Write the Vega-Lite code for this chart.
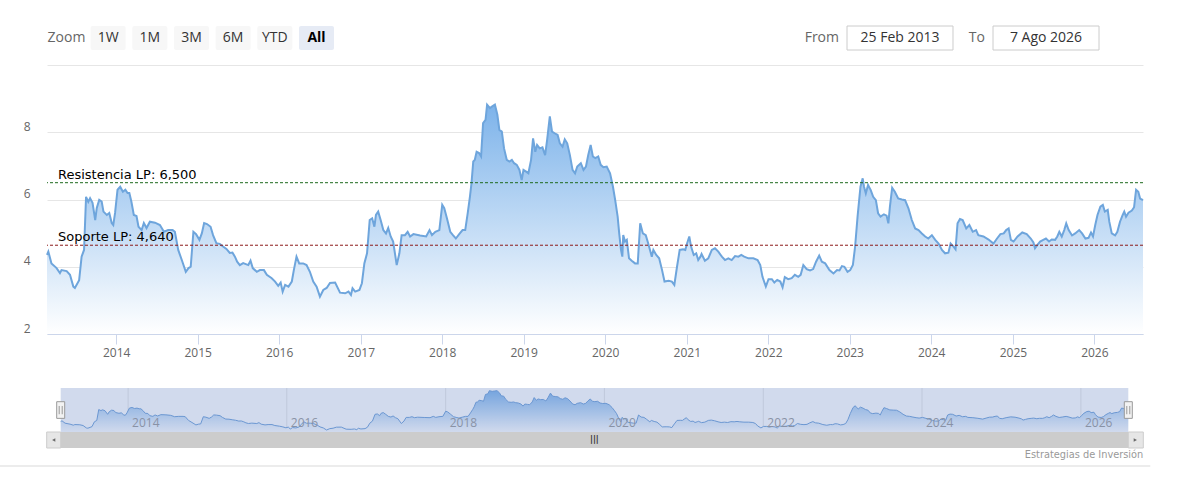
{
  "$schema": "https://vega.github.io/schema/vega-lite/v6.json",
  "autosize": "none",
  "width": 1096,
  "height": 269,
  "padding": {"left": 47, "top": 65, "right": 54, "bottom": 146},
  "background": "#ffffff",
  "config": {"view": {"stroke": null}, "font": "Open Sans"},
  "datasets": {
    "precio": [
      {"fecha": "2013-02-25", "valor": 4.35}, {"fecha": "2013-03-03", "valor": 4.45}, {"fecha": "2013-03-17", "valor": 4.1},
      {"fecha": "2013-04-09", "valor": 3.96}, {"fecha": "2013-04-24", "valor": 3.81}, {"fecha": "2013-05-01", "valor": 3.9},
      {"fecha": "2013-05-24", "valor": 3.87}, {"fecha": "2013-06-08", "valor": 3.76}, {"fecha": "2013-06-23", "valor": 3.41},
      {"fecha": "2013-06-30", "valor": 3.37}, {"fecha": "2013-07-19", "valor": 3.6}, {"fecha": "2013-07-30", "valor": 4.3},
      {"fecha": "2013-08-10", "valor": 4.5}, {"fecha": "2013-08-19", "valor": 6.08}, {"fecha": "2013-08-29", "valor": 5.93},
      {"fecha": "2013-09-06", "valor": 6.04}, {"fecha": "2013-09-17", "valor": 5.9}, {"fecha": "2013-09-29", "valor": 5.39},
      {"fecha": "2013-10-06", "valor": 5.75}, {"fecha": "2013-10-17", "valor": 5.99}, {"fecha": "2013-10-28", "valor": 5.94},
      {"fecha": "2013-11-05", "valor": 5.64}, {"fecha": "2013-11-20", "valor": 5.54}, {"fecha": "2013-12-01", "valor": 5.6},
      {"fecha": "2013-12-12", "valor": 5.3}, {"fecha": "2013-12-19", "valor": 5.24}, {"fecha": "2013-12-27", "valor": 5.6},
      {"fecha": "2014-01-07", "valor": 6.29}, {"fecha": "2014-01-19", "valor": 6.38}, {"fecha": "2014-01-31", "valor": 6.23},
      {"fecha": "2014-02-11", "valor": 6.29}, {"fecha": "2014-02-21", "valor": 6.19}, {"fecha": "2014-03-01", "valor": 6.19},
      {"fecha": "2014-03-10", "valor": 5.94}, {"fecha": "2014-03-21", "valor": 5.54}, {"fecha": "2014-04-02", "valor": 5.51},
      {"fecha": "2014-04-11", "valor": 5.19}, {"fecha": "2014-04-25", "valor": 5.09}, {"fecha": "2014-05-05", "valor": 5.3},
      {"fecha": "2014-05-17", "valor": 5.15}, {"fecha": "2014-06-01", "valor": 5.34}, {"fecha": "2014-06-24", "valor": 5.31},
      {"fecha": "2014-07-16", "valor": 5.24}, {"fecha": "2014-08-03", "valor": 5.04}, {"fecha": "2014-08-22", "valor": 5.09},
      {"fecha": "2014-09-11", "valor": 5.09}, {"fecha": "2014-09-21", "valor": 5.04}, {"fecha": "2014-10-06", "valor": 4.5},
      {"fecha": "2014-10-22", "valor": 4.2}, {"fecha": "2014-11-09", "valor": 3.85}, {"fecha": "2014-11-21", "valor": 3.96},
      {"fecha": "2014-12-01", "valor": 4.0}, {"fecha": "2014-12-13", "valor": 5.04}, {"fecha": "2014-12-25", "valor": 4.97},
      {"fecha": "2015-01-09", "valor": 4.8}, {"fecha": "2015-01-20", "valor": 5.0}, {"fecha": "2015-01-30", "valor": 5.3},
      {"fecha": "2015-02-12", "valor": 5.27}, {"fecha": "2015-02-28", "valor": 5.19}, {"fecha": "2015-03-11", "valor": 4.94},
      {"fecha": "2015-03-26", "valor": 4.7}, {"fecha": "2015-04-10", "valor": 4.68}, {"fecha": "2015-04-25", "valor": 4.6},
      {"fecha": "2015-05-10", "valor": 4.53}, {"fecha": "2015-05-25", "valor": 4.41}, {"fecha": "2015-06-06", "valor": 4.42},
      {"fecha": "2015-06-17", "valor": 4.3}, {"fecha": "2015-06-27", "valor": 4.15}, {"fecha": "2015-07-09", "valor": 4.05},
      {"fecha": "2015-07-24", "valor": 4.11}, {"fecha": "2015-08-16", "valor": 4.05}, {"fecha": "2015-08-26", "valor": 4.18},
      {"fecha": "2015-09-05", "valor": 3.96}, {"fecha": "2015-09-23", "valor": 3.85}, {"fecha": "2015-10-07", "valor": 3.9},
      {"fecha": "2015-10-25", "valor": 3.9}, {"fecha": "2015-11-07", "valor": 3.76}, {"fecha": "2015-11-29", "valor": 3.66},
      {"fecha": "2015-12-14", "valor": 3.56}, {"fecha": "2015-12-28", "valor": 3.43}, {"fecha": "2016-01-08", "valor": 3.53},
      {"fecha": "2016-01-17", "valor": 3.26}, {"fecha": "2016-01-28", "valor": 3.46}, {"fecha": "2016-02-12", "valor": 3.41},
      {"fecha": "2016-02-27", "valor": 3.56}, {"fecha": "2016-03-07", "valor": 3.9}, {"fecha": "2016-03-19", "valor": 4.3},
      {"fecha": "2016-03-31", "valor": 4.1}, {"fecha": "2016-04-18", "valor": 4.1}, {"fecha": "2016-05-03", "valor": 4.05},
      {"fecha": "2016-05-18", "valor": 3.85}, {"fecha": "2016-06-02", "valor": 3.56}, {"fecha": "2016-06-17", "valor": 3.41},
      {"fecha": "2016-07-02", "valor": 3.11}, {"fecha": "2016-07-17", "valor": 3.31}, {"fecha": "2016-08-01", "valor": 3.37},
      {"fecha": "2016-08-16", "valor": 3.52}, {"fecha": "2016-09-08", "valor": 3.53}, {"fecha": "2016-09-30", "valor": 3.23},
      {"fecha": "2016-10-23", "valor": 3.21}, {"fecha": "2016-11-07", "valor": 3.26}, {"fecha": "2016-11-18", "valor": 3.16},
      {"fecha": "2016-11-25", "valor": 3.36}, {"fecha": "2016-12-07", "valor": 3.26}, {"fecha": "2016-12-26", "valor": 3.31},
      {"fecha": "2017-01-06", "valor": 3.51}, {"fecha": "2017-01-17", "valor": 4.1}, {"fecha": "2017-01-29", "valor": 4.4},
      {"fecha": "2017-02-10", "valor": 5.39}, {"fecha": "2017-02-21", "valor": 5.44}, {"fecha": "2017-03-03", "valor": 5.19},
      {"fecha": "2017-03-10", "valor": 5.54}, {"fecha": "2017-03-20", "valor": 5.64}, {"fecha": "2017-03-31", "valor": 5.39},
      {"fecha": "2017-04-12", "valor": 5.09}, {"fecha": "2017-04-24", "valor": 4.99}, {"fecha": "2017-05-04", "valor": 5.15},
      {"fecha": "2017-05-15", "valor": 4.9}, {"fecha": "2017-05-26", "valor": 4.75}, {"fecha": "2017-06-11", "valor": 4.05},
      {"fecha": "2017-06-23", "valor": 4.4}, {"fecha": "2017-07-03", "valor": 4.94}, {"fecha": "2017-07-18", "valor": 4.94},
      {"fecha": "2017-07-30", "valor": 5.04}, {"fecha": "2017-08-10", "valor": 4.9}, {"fecha": "2017-08-25", "valor": 4.97},
      {"fecha": "2017-09-24", "valor": 4.93}, {"fecha": "2017-10-21", "valor": 4.9}, {"fecha": "2017-11-05", "valor": 5.09},
      {"fecha": "2017-11-16", "valor": 4.94}, {"fecha": "2017-12-01", "valor": 5.04}, {"fecha": "2017-12-19", "valor": 5.09},
      {"fecha": "2018-01-01", "valor": 5.84}, {"fecha": "2018-01-10", "valor": 5.74}, {"fecha": "2018-01-22", "valor": 5.44},
      {"fecha": "2018-02-06", "valor": 5.04}, {"fecha": "2018-02-18", "valor": 4.94}, {"fecha": "2018-03-03", "valor": 4.84},
      {"fecha": "2018-03-18", "valor": 4.97}, {"fecha": "2018-04-02", "valor": 5.09}, {"fecha": "2018-04-14", "valor": 5.09},
      {"fecha": "2018-04-25", "valor": 5.59}, {"fecha": "2018-05-05", "valor": 6.08}, {"fecha": "2018-05-12", "valor": 6.48},
      {"fecha": "2018-05-20", "valor": 7.13}, {"fecha": "2018-05-27", "valor": 7.18}, {"fecha": "2018-06-04", "valor": 7.42},
      {"fecha": "2018-06-15", "valor": 7.38}, {"fecha": "2018-06-24", "valor": 7.28}, {"fecha": "2018-07-03", "valor": 8.27},
      {"fecha": "2018-07-14", "valor": 8.37}, {"fecha": "2018-07-21", "valor": 8.82}, {"fecha": "2018-08-03", "valor": 8.72},
      {"fecha": "2018-08-13", "valor": 8.77}, {"fecha": "2018-08-25", "valor": 8.82}, {"fecha": "2018-09-05", "valor": 8.52},
      {"fecha": "2018-09-14", "valor": 8.07}, {"fecha": "2018-09-25", "valor": 8.02}, {"fecha": "2018-10-05", "valor": 7.52},
      {"fecha": "2018-10-17", "valor": 7.18}, {"fecha": "2018-10-29", "valor": 7.13}, {"fecha": "2018-11-09", "valor": 7.18},
      {"fecha": "2018-11-19", "valor": 7.08}, {"fecha": "2018-12-01", "valor": 7.03}, {"fecha": "2018-12-13", "valor": 6.88},
      {"fecha": "2018-12-23", "valor": 6.58}, {"fecha": "2018-12-31", "valor": 6.88}, {"fecha": "2019-01-12", "valor": 6.83},
      {"fecha": "2019-01-22", "valor": 6.78}, {"fecha": "2019-02-03", "valor": 7.18}, {"fecha": "2019-02-12", "valor": 7.82},
      {"fecha": "2019-02-22", "valor": 7.42}, {"fecha": "2019-03-02", "valor": 7.62}, {"fecha": "2019-03-14", "valor": 7.52},
      {"fecha": "2019-03-26", "valor": 7.55}, {"fecha": "2019-04-07", "valor": 7.32}, {"fecha": "2019-04-16", "valor": 7.77},
      {"fecha": "2019-04-28", "valor": 8.47}, {"fecha": "2019-05-08", "valor": 8.02}, {"fecha": "2019-05-20", "valor": 7.97},
      {"fecha": "2019-06-02", "valor": 7.92}, {"fecha": "2019-06-12", "valor": 7.67}, {"fecha": "2019-06-24", "valor": 7.57},
      {"fecha": "2019-07-04", "valor": 7.79}, {"fecha": "2019-07-15", "valor": 7.67}, {"fecha": "2019-07-27", "valor": 7.32},
      {"fecha": "2019-08-08", "valor": 6.88}, {"fecha": "2019-08-19", "valor": 6.78}, {"fecha": "2019-08-29", "valor": 6.98},
      {"fecha": "2019-09-14", "valor": 7.08}, {"fecha": "2019-09-26", "valor": 6.88}, {"fecha": "2019-10-07", "valor": 6.98},
      {"fecha": "2019-10-17", "valor": 7.32}, {"fecha": "2019-10-28", "valor": 7.62}, {"fecha": "2019-11-07", "valor": 7.28},
      {"fecha": "2019-11-18", "valor": 7.23}, {"fecha": "2019-12-01", "valor": 7.28}, {"fecha": "2019-12-12", "valor": 7.03},
      {"fecha": "2019-12-24", "valor": 6.96}, {"fecha": "2020-01-08", "valor": 6.98}, {"fecha": "2020-01-23", "valor": 6.78},
      {"fecha": "2020-02-05", "valor": 6.38}, {"fecha": "2020-02-15", "valor": 5.98}, {"fecha": "2020-02-26", "valor": 5.49},
      {"fecha": "2020-03-04", "valor": 4.99}, {"fecha": "2020-03-12", "valor": 4.5}, {"fecha": "2020-03-18", "valor": 4.3},
      {"fecha": "2020-03-22", "valor": 4.94}, {"fecha": "2020-03-30", "valor": 4.75}, {"fecha": "2020-04-07", "valor": 4.8},
      {"fecha": "2020-04-17", "valor": 4.25}, {"fecha": "2020-04-29", "valor": 4.18}, {"fecha": "2020-05-14", "valor": 4.1},
      {"fecha": "2020-05-26", "valor": 4.1}, {"fecha": "2020-06-06", "valor": 5.29}, {"fecha": "2020-06-18", "valor": 4.99},
      {"fecha": "2020-07-01", "valor": 4.94}, {"fecha": "2020-07-12", "valor": 4.69}, {"fecha": "2020-07-28", "valor": 4.3},
      {"fecha": "2020-08-04", "valor": 4.5}, {"fecha": "2020-08-17", "valor": 4.35}, {"fecha": "2020-08-30", "valor": 4.25},
      {"fecha": "2020-09-12", "valor": 3.9}, {"fecha": "2020-09-23", "valor": 3.56}, {"fecha": "2020-10-11", "valor": 3.58},
      {"fecha": "2020-10-26", "valor": 3.56}, {"fecha": "2020-11-06", "valor": 3.46}, {"fecha": "2020-11-18", "valor": 4.0},
      {"fecha": "2020-11-30", "valor": 4.5}, {"fecha": "2020-12-15", "valor": 4.52}, {"fecha": "2020-12-25", "valor": 4.5},
      {"fecha": "2021-01-02", "valor": 4.69}, {"fecha": "2021-01-12", "valor": 4.9}, {"fecha": "2021-01-20", "valor": 4.6},
      {"fecha": "2021-02-01", "valor": 4.35}, {"fecha": "2021-02-12", "valor": 4.4}, {"fecha": "2021-02-21", "valor": 4.2},
      {"fecha": "2021-03-03", "valor": 4.3}, {"fecha": "2021-03-08", "valor": 4.38}, {"fecha": "2021-03-23", "valor": 4.18},
      {"fecha": "2021-04-07", "valor": 4.25}, {"fecha": "2021-04-23", "valor": 4.5}, {"fecha": "2021-05-07", "valor": 4.55},
      {"fecha": "2021-05-22", "valor": 4.45}, {"fecha": "2021-06-07", "valor": 4.3}, {"fecha": "2021-06-21", "valor": 4.2},
      {"fecha": "2021-07-06", "valor": 4.25}, {"fecha": "2021-07-21", "valor": 4.2}, {"fecha": "2021-08-05", "valor": 4.32},
      {"fecha": "2021-08-20", "valor": 4.3}, {"fecha": "2021-09-02", "valor": 4.35}, {"fecha": "2021-09-15", "valor": 4.3},
      {"fecha": "2021-10-04", "valor": 4.25}, {"fecha": "2021-10-26", "valor": 4.25}, {"fecha": "2021-11-14", "valor": 4.2},
      {"fecha": "2021-11-26", "valor": 4.05}, {"fecha": "2021-12-06", "valor": 3.7}, {"fecha": "2021-12-21", "valor": 3.41},
      {"fecha": "2022-01-02", "valor": 3.63}, {"fecha": "2022-01-17", "valor": 3.63}, {"fecha": "2022-01-28", "valor": 3.53},
      {"fecha": "2022-02-10", "valor": 3.61}, {"fecha": "2022-02-24", "valor": 3.56}, {"fecha": "2022-03-06", "valor": 3.39},
      {"fecha": "2022-03-16", "valor": 3.69}, {"fecha": "2022-03-31", "valor": 3.63}, {"fecha": "2022-04-16", "valor": 3.66},
      {"fecha": "2022-04-30", "valor": 3.76}, {"fecha": "2022-05-15", "valor": 3.7}, {"fecha": "2022-05-26", "valor": 3.76},
      {"fecha": "2022-06-07", "valor": 4.05}, {"fecha": "2022-06-22", "valor": 3.93}, {"fecha": "2022-07-07", "valor": 3.89},
      {"fecha": "2022-07-21", "valor": 3.93}, {"fecha": "2022-08-03", "valor": 4.15}, {"fecha": "2022-08-17", "valor": 4.33},
      {"fecha": "2022-08-29", "valor": 4.15}, {"fecha": "2022-09-13", "valor": 4.1}, {"fecha": "2022-10-02", "valor": 3.9},
      {"fecha": "2022-10-20", "valor": 3.8}, {"fecha": "2022-11-05", "valor": 3.9}, {"fecha": "2022-11-16", "valor": 3.89},
      {"fecha": "2022-11-27", "valor": 4.02}, {"fecha": "2022-12-08", "valor": 4.0}, {"fecha": "2022-12-22", "valor": 3.85},
      {"fecha": "2023-01-03", "valor": 3.9}, {"fecha": "2023-01-15", "valor": 4.05}, {"fecha": "2023-01-25", "valor": 4.6},
      {"fecha": "2023-02-05", "valor": 5.49}, {"fecha": "2023-02-18", "valor": 6.38}, {"fecha": "2023-02-28", "valor": 6.63},
      {"fecha": "2023-03-06", "valor": 6.38}, {"fecha": "2023-03-14", "valor": 6.18}, {"fecha": "2023-03-24", "valor": 6.43},
      {"fecha": "2023-04-05", "valor": 6.28}, {"fecha": "2023-04-16", "valor": 6.08}, {"fecha": "2023-04-28", "valor": 5.98},
      {"fecha": "2023-05-08", "valor": 5.59}, {"fecha": "2023-05-19", "valor": 5.49}, {"fecha": "2023-06-03", "valor": 5.56},
      {"fecha": "2023-06-15", "valor": 5.52}, {"fecha": "2023-06-23", "valor": 5.29}, {"fecha": "2023-06-30", "valor": 5.79},
      {"fecha": "2023-07-10", "valor": 6.35}, {"fecha": "2023-07-22", "valor": 6.23}, {"fecha": "2023-08-06", "valor": 6.03},
      {"fecha": "2023-08-22", "valor": 6.0}, {"fecha": "2023-09-06", "valor": 5.98}, {"fecha": "2023-09-21", "valor": 5.74},
      {"fecha": "2023-10-06", "valor": 5.39}, {"fecha": "2023-10-21", "valor": 5.14}, {"fecha": "2023-11-05", "valor": 5.09},
      {"fecha": "2023-11-20", "valor": 4.99}, {"fecha": "2023-12-05", "valor": 4.9}, {"fecha": "2023-12-19", "valor": 4.84},
      {"fecha": "2024-01-04", "valor": 4.94}, {"fecha": "2024-01-19", "valor": 4.8}, {"fecha": "2024-02-03", "valor": 4.69},
      {"fecha": "2024-02-18", "valor": 4.5}, {"fecha": "2024-03-03", "valor": 4.4}, {"fecha": "2024-03-18", "valor": 4.42},
      {"fecha": "2024-03-28", "valor": 4.69}, {"fecha": "2024-04-10", "valor": 4.6}, {"fecha": "2024-04-19", "valor": 4.52},
      {"fecha": "2024-04-28", "valor": 5.29}, {"fecha": "2024-05-09", "valor": 5.42}, {"fecha": "2024-05-21", "valor": 5.39},
      {"fecha": "2024-06-06", "valor": 5.14}, {"fecha": "2024-06-20", "valor": 5.24}, {"fecha": "2024-07-05", "valor": 5.04},
      {"fecha": "2024-07-20", "valor": 5.09}, {"fecha": "2024-07-30", "valor": 4.94}, {"fecha": "2024-08-22", "valor": 4.9},
      {"fecha": "2024-09-14", "valor": 4.81}, {"fecha": "2024-10-06", "valor": 4.69}, {"fecha": "2024-10-22", "valor": 4.84},
      {"fecha": "2024-11-06", "valor": 4.97}, {"fecha": "2024-11-21", "valor": 4.99}, {"fecha": "2024-12-02", "valor": 5.09},
      {"fecha": "2024-12-13", "valor": 5.14}, {"fecha": "2024-12-23", "valor": 4.8}, {"fecha": "2025-01-04", "valor": 4.75},
      {"fecha": "2025-01-22", "valor": 4.9}, {"fecha": "2025-02-12", "valor": 5.02}, {"fecha": "2025-03-04", "valor": 4.97},
      {"fecha": "2025-03-22", "valor": 4.84}, {"fecha": "2025-04-03", "valor": 4.72}, {"fecha": "2025-04-10", "valor": 4.55},
      {"fecha": "2025-04-21", "valor": 4.65}, {"fecha": "2025-05-03", "valor": 4.75}, {"fecha": "2025-05-17", "valor": 4.8},
      {"fecha": "2025-05-29", "valor": 4.84}, {"fecha": "2025-06-12", "valor": 4.75}, {"fecha": "2025-06-24", "valor": 4.81},
      {"fecha": "2025-07-09", "valor": 4.8}, {"fecha": "2025-07-19", "valor": 4.9}, {"fecha": "2025-07-28", "valor": 5.04},
      {"fecha": "2025-08-08", "valor": 4.9}, {"fecha": "2025-08-19", "valor": 5.09}, {"fecha": "2025-08-28", "valor": 5.29},
      {"fecha": "2025-09-08", "valor": 5.09}, {"fecha": "2025-09-23", "valor": 4.93}, {"fecha": "2025-10-07", "valor": 4.99},
      {"fecha": "2025-10-25", "valor": 5.09}, {"fecha": "2025-11-07", "valor": 4.99}, {"fecha": "2025-11-22", "valor": 4.84},
      {"fecha": "2025-12-06", "valor": 4.86}, {"fecha": "2025-12-17", "valor": 5.02}, {"fecha": "2025-12-26", "valor": 4.9},
      {"fecha": "2026-01-05", "valor": 5.24}, {"fecha": "2026-01-15", "valor": 5.54}, {"fecha": "2026-01-28", "valor": 5.79},
      {"fecha": "2026-02-08", "valor": 5.84}, {"fecha": "2026-02-17", "valor": 5.64}, {"fecha": "2026-03-02", "valor": 5.69},
      {"fecha": "2026-03-09", "valor": 5.34}, {"fecha": "2026-03-20", "valor": 4.99}, {"fecha": "2026-04-04", "valor": 4.93},
      {"fecha": "2026-04-14", "valor": 5.04}, {"fecha": "2026-04-26", "valor": 5.34}, {"fecha": "2026-05-08", "valor": 5.54},
      {"fecha": "2026-05-15", "valor": 5.64}, {"fecha": "2026-05-23", "valor": 5.49}, {"fecha": "2026-06-03", "valor": 5.61},
      {"fecha": "2026-06-18", "valor": 5.67}, {"fecha": "2026-06-28", "valor": 5.77}, {"fecha": "2026-07-07", "valor": 6.29},
      {"fecha": "2026-07-17", "valor": 6.23}, {"fecha": "2026-07-25", "valor": 6.03}, {"fecha": "2026-08-07", "valor": 5.98}
    ],
    "niveles": [
      {"nivel": "Resistencia LP", "valor": 6.5, "etiqueta": "Resistencia LP: 6,500"},
      {"nivel": "Soporte LP", "valor": 4.64, "etiqueta": "Soporte LP: 4,640"}
    ],
    "ventana": [{"desde": "2013-02-25", "hasta": "2026-08-07"}],
    "navAnios": [
      {"fecha": "2014-01-01", "anio": "2014"}, {"fecha": "2016-01-01", "anio": "2016"},
      {"fecha": "2018-01-01", "anio": "2018"}, {"fecha": "2020-01-01", "anio": "2020"},
      {"fecha": "2022-01-01", "anio": "2022"}, {"fecha": "2024-01-01", "anio": "2024"},
      {"fecha": "2026-01-01", "anio": "2026"}
    ],
    "botones": [
      {"boton": "Zoom"}, {"boton": "1W"}, {"boton": "1M"}, {"boton": "3M"},
      {"boton": "6M"}, {"boton": "YTD"}, {"boton": "All"}
    ],
    "rango": [
      {"campo": "From", "fecha": "25 Feb 2013"},
      {"campo": "To", "fecha": "7 Ago 2026"}
    ]
  },
  "layer": [
    {
      "data": {"name": "precio"},
      "layer": [
        {
          "mark": {
            "type": "area",
            "color": {
              "gradient": "linear", "x1": 0, "y1": 0, "x2": 0, "y2": 1,
              "stops": [{"offset": 0, "color": "#7db3ea"}, {"offset": 1, "color": "#ffffff"}]
            }
          },
          "encoding": {
            "x": {
              "field": "fecha", "type": "temporal", "title": null,
              "scale": {"domain": [{"year": 2013, "month": 2, "date": 25}, {"year": 2026, "month": 8, "date": 7}]},
              "axis": {
                "format": "%Y", "tickCount": {"interval": "year", "step": 1}, "grid": false,
                "domainColor": "#ccd6eb", "tickColor": "#ccd6eb", "tickSize": 10,
                "labelColor": "#666666", "labelFontSize": 12, "labelFont": "Open Sans",
                "labelPadding": 3, "labelFlush": false, "labelOverlap": false
              }
            },
            "y": {
              "field": "valor", "type": "quantitative", "title": null,
              "scale": {"domain": [2, 10], "nice": false, "zero": false},
              "axis": {
                "values": [2, 4, 6, 8, 10], "labelExpr": "datum.value == 10 ? '' : datum.label",
                "grid": true, "gridColor": "#e6e6e6", "domain": false, "ticks": false,
                "labelColor": "#666666", "labelFontSize": 12, "labelFont": "Open Sans",
                "labelPadding": 17, "labelBaseline": "alphabetic", "labelOffset": -2
              }
            },
            "y2": {"datum": 2}
          }
        },
        {
          "mark": {"type": "line", "color": "#6ea5dc", "strokeWidth": 2},
          "encoding": {
            "x": {"field": "fecha", "type": "temporal"},
            "y": {"field": "valor", "type": "quantitative"}
          }
        },
        {
          "data": {"name": "niveles"},
          "mark": {"type": "rule", "strokeDash": [3, 2], "strokeWidth": 1},
          "encoding": {
            "y": {"field": "valor", "type": "quantitative"},
            "color": {
              "field": "nivel", "type": "nominal", "legend": null,
              "scale": {"domain": ["Resistencia LP", "Soporte LP"], "range": ["#1e6b1e", "#8b1a1a"]}
            }
          }
        },
        {
          "data": {"name": "niveles"},
          "mark": {"type": "text", "align": "left", "baseline": "alphabetic", "dx": 11, "dy": -4, "font": "DejaVu Sans", "fontSize": 13, "color": "#000000"},
          "encoding": {
            "x": {"datum": {"year": 2013, "month": 2, "date": 25}, "type": "temporal"},
            "y": {"field": "valor", "type": "quantitative"},
            "text": {"field": "etiqueta"}
          }
        }
      ]
    },
    {
      "layer": [
        {
          "data": {"name": "navAnios"},
          "mark": {"type": "rule", "color": "#e6e6e6", "strokeWidth": 1},
          "encoding": {
            "x": {
              "field": "fecha", "type": "temporal", "axis": null,
              "scale": {"domain": [{"year": 2013, "month": 2, "date": 25}, {"year": 2026, "month": 8, "date": 7}], "range": [13.7, 1081.3]}
            },
            "y": {"datum": 9.21, "type": "quantitative", "axis": null, "scale": {"domain": [2.82, 9.21], "range": [367, 323], "nice": false, "zero": false}},
            "y2": {"datum": 2.82}
          }
        },
        {
          "data": {"name": "precio"},
          "mark": {
            "type": "area",
            "color": {
              "gradient": "linear", "x1": 0, "y1": 0, "x2": 0, "y2": 1,
              "stops": [{"offset": 0, "color": "#7db3ea"}, {"offset": 1, "color": "#ffffff"}]
            }
          },
          "encoding": {
            "x": {"field": "fecha", "type": "temporal"},
            "y": {"field": "valor", "type": "quantitative"},
            "y2": {"datum": 2.82}
          }
        },
        {
          "data": {"name": "precio"},
          "mark": {"type": "line", "color": "#6d9fd8", "strokeWidth": 1},
          "encoding": {
            "x": {"field": "fecha", "type": "temporal"},
            "y": {"field": "valor", "type": "quantitative"}
          }
        },
        {
          "data": {"name": "navAnios"},
          "mark": {"type": "text", "align": "left", "baseline": "alphabetic", "dx": 4, "dy": -5, "font": "Open Sans", "fontSize": 12, "color": "#999999"},
          "encoding": {
            "x": {"field": "fecha", "type": "temporal"},
            "y": {"datum": 2.82, "type": "quantitative"},
            "text": {"field": "anio"}
          }
        },
        {
          "data": {"name": "ventana"},
          "mark": {"type": "rect", "color": "#6685c2", "opacity": 0.3},
          "encoding": {
            "x": {"field": "desde", "type": "temporal"},
            "x2": {"field": "hasta"},
            "y": {"datum": 9.21, "type": "quantitative"},
            "y2": {"datum": 2.82}
          }
        },
        {
          "data": {"name": "ventana"},
          "mark": {"type": "rect", "color": "#cccccc", "y2Offset": 16},
          "encoding": {
            "x": {"field": "desde", "type": "temporal"},
            "x2": {"field": "hasta"},
            "y": {"datum": 2.82, "type": "quantitative"},
            "y2": {"datum": 2.82}
          }
        },
        {
          "data": {"name": "ventana"},
          "mark": {"type": "rect", "color": "#e6e6e6", "stroke": "#cccccc", "strokeWidth": 1, "xOffset": -14, "y2Offset": 16},
          "encoding": {
            "x": {"field": "desde", "type": "temporal"},
            "x2": {"field": "desde"},
            "y": {"datum": 2.82, "type": "quantitative"},
            "y2": {"datum": 2.82}
          }
        },
        {
          "data": {"name": "ventana"},
          "mark": {"type": "rect", "color": "#e6e6e6", "stroke": "#cccccc", "strokeWidth": 1, "x2Offset": 15, "y2Offset": 16},
          "encoding": {
            "x": {"field": "hasta", "type": "temporal"},
            "x2": {"field": "hasta"},
            "y": {"datum": 2.82, "type": "quantitative"},
            "y2": {"datum": 2.82}
          }
        },
        {
          "data": {"name": "ventana"},
          "mark": {"type": "point", "shape": "triangle-left", "filled": true, "size": 14, "color": "#333333", "xOffset": -7, "yOffset": 8},
          "encoding": {
            "x": {"field": "desde", "type": "temporal"},
            "y": {"datum": 2.82, "type": "quantitative"}
          }
        },
        {
          "data": {"name": "ventana"},
          "mark": {"type": "point", "shape": "triangle-right", "filled": true, "size": 14, "color": "#333333", "xOffset": 7, "yOffset": 8},
          "encoding": {
            "x": {"field": "hasta", "type": "temporal"},
            "y": {"datum": 2.82, "type": "quantitative"}
          }
        },
        {
          "data": {"name": "ventana"},
          "mark": {"type": "text", "text": "|||", "font": "DejaVu Sans", "fontSize": 8, "fontWeight": "bold", "color": "#333333", "yOffset": 8},
          "encoding": {
            "x": {"datum": {"year": 2019, "month": 11, "date": 16}, "type": "temporal"},
            "y": {"datum": 2.82, "type": "quantitative"}
          }
        },
        {
          "data": {"name": "ventana"},
          "transform": [{"fold": ["desde", "hasta"], "as": ["borde", "fecha"]}],
          "layer": [
            {
              "mark": {"type": "rect", "fill": "#f2f2f2", "stroke": "#999999", "strokeWidth": 1, "xOffset": -4, "x2Offset": 4},
              "encoding": {
                "x": {"field": "fecha", "type": "temporal"},
                "x2": {"field": "fecha"},
                "y": {"datum": 7.22, "type": "quantitative"},
                "y2": {"datum": 4.8}
              }
            },
            {
              "mark": {"type": "rule", "color": "#999999", "strokeWidth": 1, "xOffset": -1.5},
              "encoding": {
                "x": {"field": "fecha", "type": "temporal"},
                "y": {"datum": 6.6, "type": "quantitative"},
                "y2": {"datum": 5.4}
              }
            },
            {
              "mark": {"type": "rule", "color": "#999999", "strokeWidth": 1, "xOffset": 1.5},
              "encoding": {
                "x": {"field": "fecha", "type": "temporal"},
                "y": {"datum": 6.6, "type": "quantitative"},
                "y2": {"datum": 5.4}
              }
            }
          ]
        },
        {
          "data": {"name": "ventana"},
          "mark": {"type": "text", "text": "Estrategias de Inversión", "align": "right", "baseline": "alphabetic", "dx": 15, "dy": 26, "font": "DejaVu Sans", "fontSize": 9.8, "color": "#999999"},
          "encoding": {
            "x": {"field": "hasta", "type": "temporal"},
            "y": {"datum": 2.82, "type": "quantitative"}
          }
        },
        {
          "data": {"name": "ventana"},
          "mark": {"type": "rule", "color": "#d9d9d9", "strokeWidth": 1, "xOffset": -61, "x2Offset": 22, "yOffset": 34},
          "encoding": {
            "x": {"field": "desde", "type": "temporal"},
            "x2": {"field": "hasta"},
            "y": {"datum": 2.82, "type": "quantitative"}
          }
        }
      ]
    },
    {
      "data": {"name": "botones"},
      "encoding": {
        "x": {
          "field": "boton", "type": "nominal", "axis": null,
          "scale": {"type": "band", "domain": ["Zoom", "1W", "1M", "3M", "6M", "YTD", "All"], "range": [2, 287], "paddingInner": 0.16, "paddingOuter": 0}
        },
        "y": {
          "datum": "botonera", "type": "nominal", "axis": null,
          "scale": {"type": "band", "domain": ["botonera"], "range": [-39, -15], "paddingInner": 0, "paddingOuter": 0}
        }
      },
      "layer": [
        {
          "transform": [{"filter": "datum.boton != 'Zoom'"}],
          "mark": {"type": "rect", "cornerRadius": 2},
          "encoding": {
            "fill": {"condition": {"test": "datum.boton == 'All'", "value": "#e6ebf5"}, "value": "#f7f7f7"}
          }
        },
        {
          "transform": [{"filter": "datum.boton != 'All'"}],
          "mark": {"type": "text", "font": "Open Sans", "fontSize": 14},
          "encoding": {
            "text": {"field": "boton"},
            "color": {"condition": {"test": "datum.boton == 'Zoom'", "value": "#666666"}, "value": "#333333"}
          }
        },
        {
          "transform": [{"filter": "datum.boton == 'All'"}],
          "mark": {"type": "text", "font": "Open Sans", "fontSize": 14, "fontWeight": "bold", "color": "#000000"},
          "encoding": {"text": {"field": "boton"}}
        }
      ]
    },
    {
      "data": {"name": "rango"},
      "encoding": {
        "y": {
          "datum": "entrada", "type": "nominal", "axis": null,
          "scale": {"type": "band", "domain": ["entrada"], "range": [-39, -15], "paddingInner": 0, "paddingOuter": 0}
        }
      },
      "layer": [
        {
          "mark": {"type": "rect", "fill": "#ffffff", "stroke": "#cccccc", "strokeWidth": 1},
          "encoding": {
            "x": {
              "field": "campo", "type": "nominal", "axis": null,
              "scale": {"type": "band", "domain": ["From", "To"], "range": [800, 1052], "paddingInner": 0.274, "paddingOuter": 0}
            }
          }
        },
        {
          "mark": {"type": "text", "font": "Open Sans", "fontSize": 14, "color": "#333333"},
          "encoding": {
            "x": {"field": "campo", "type": "nominal"},
            "text": {"field": "fecha"}
          }
        },
        {
          "mark": {"type": "text", "font": "Open Sans", "fontSize": 14, "color": "#666666", "align": "right", "dx": -8},
          "encoding": {
            "x": {"field": "campo", "type": "nominal", "bandPosition": 0},
            "text": {"field": "campo"}
          }
        }
      ]
    }
  ],
  "resolve": {"scale": {"x": "independent", "y": "independent", "color": "independent", "fill": "independent"}}
}
